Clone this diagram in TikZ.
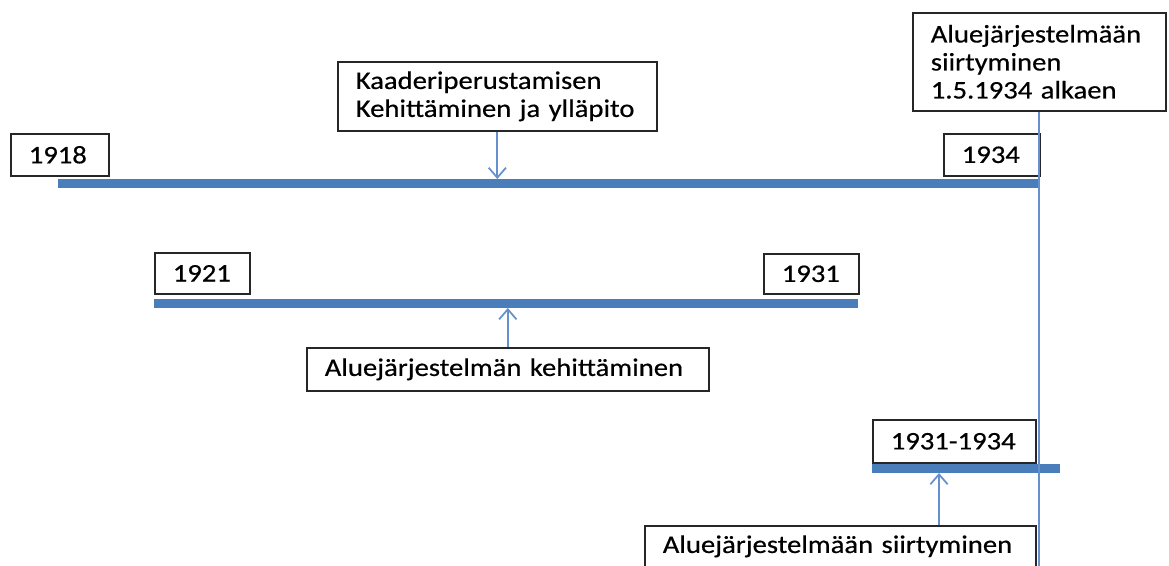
\documentclass[tikz,border=0pt]{standalone}
\usepackage{fontspec}
\setmainfont{Carlito}[FakeStretch=1.13, FakeBold=0.5]
\usetikzlibrary{positioning, arrows.meta}

\definecolor{barblue}{RGB}{74,126,187}
\definecolor{thinblue}{RGB}{100,145,205}

\begin{document}
\begin{tikzpicture}[x=0.75pt, y=-0.75pt,
    box/.style={draw=black!85, line width=1.2pt, anchor=north west,
                inner xsep=13.5pt, inner ysep=0pt, align=left,
                font=\fontsize{19}{21}\selectfont},
    period/.style={draw=barblue, line width=6.75pt},
    pointer/.style={draw=thinblue, line width=1.3pt,
                    -{Straight Barb[length=7.5pt, width=13pt]}},
    guide/.style={draw=thinblue, line width=1.3pt}]
  \useasboundingbox (0,0) rectangle (1169,566);

  % time lines
  \coordinate (l1a) at (58,184);   \coordinate (l1b) at (1040,184);
  \coordinate (l2a) at (154,303);  \coordinate (l2b) at (858,303);
  \coordinate (l3a) at (872,468);  \coordinate (l3b) at (1060,468);
  \draw[period] (l1a) -- (l1b);
  \draw[period] (l2a) -- (l2b);
  \draw[period] (l3a) -- (l3b);

  % year boxes
  \node[box, text width=46.5pt, minimum height=31.5pt] (y1918) at (10,133) {1918};
  \node[box, text width=45pt, minimum height=31.5pt] (y1934) at (943,133) {1934};
  \node[box, text width=44.25pt, minimum height=30.75pt] (y1921) at (154,252) {1921};
  \node[box, text width=44.25pt, minimum height=30pt] (y1931) at (763,253) {1931};
  \node[box, text width=95.25pt, minimum height=32.25pt] (y3134) at (872,419) {1931-1934};

  % descriptions
  \node[box, text width=212.25pt, minimum height=51.75pt] (kaad) at (337,61)
    {Kaaderiperustamisen\\Kehittäminen ja ylläpito};
  \node[box, text width=162.75pt, minimum height=73.5pt] (alku) at (912,12)
    {Aluejärjestelmään\\siirtyminen\\1.5.1934 alkaen};
  \node[box, text width=274.5pt, minimum height=32.25pt] (keh) at (306,347)
    {Aluejärjestelmän kehittäminen};
  \node[box, text width=266.25pt, minimum height=30.75pt] (siir) at (644,525)
    {Aluejärjestelmään siirtyminen};

  % connectors
  \coordinate (k1) at (kaad.south |- 0,179);
  \coordinate (k2) at (keh.north |- 0,308);
  \coordinate (s1) at (939,525);
  \coordinate (s2) at (939,473);
  \coordinate (vend) at (alku.south |- 0,566);
  \draw[pointer] (kaad.south) -- (k1);
  \draw[pointer] (keh.north) -- (k2);
  \draw[pointer] (s1) -- (s2);
  \draw[guide] (alku.south) -- (vend);
\end{tikzpicture}
\end{document}
